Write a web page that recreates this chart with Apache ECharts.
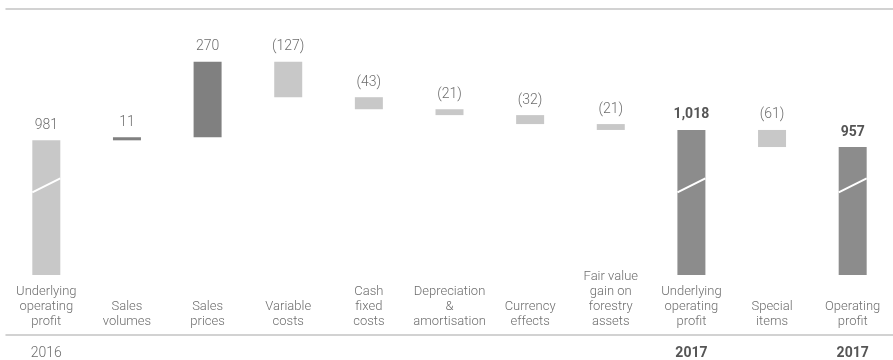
<!DOCTYPE html>
<html><head><meta charset="utf-8">
<script src="https://cdn.jsdelivr.net/npm/echarts@6/dist/echarts.min.js"></script>
<style>html,body{margin:0;padding:0;background:#fff}#c{width:893px;height:360px}</style>
</head><body><div id="c"></div>
<script>
const categories = ['Underlying\noperating\nprofit','Sales\nvolumes','Sales\nprices','Variable\ncosts','Cash\nfixed\ncosts','Depreciation\n&\namortisation','Currency\neffects','Fair value\ngain on\nforestry\nassets','Underlying\noperating\nprofit','Special\nitems','Operating\nprofit'];
const values = [981, 11, 270, -127, -43, -21, -32, -21, 1018, -61, 957];
const isTotal = [true, false, false, false, false, false, false, false, true, false, true];
const yearLabels = ['2016','','','','','','','','2017','','2017'];
const boldTotal = [false, false, false, false, false, false, false, false, true, false, true];
const breakAt = [820, null, null, null, null, null, null, null, 820, null, 820];

const LIGHT = '#c8c8c8', DARK = '#808080', TOTAL17 = '#8c8c8c';
const FONT = 'Roboto, "Liberation Sans", sans-serif';

// waterfall: invisible base + visible segment
let running = 0;
const baseData = [], segData = [];
values.forEach((v, i) => {
  if (isTotal[i]) {
    baseData.push(0);
    running = v;
    let color = boldTotal[i] ? TOTAL17 : LIGHT;
    segData.push({value: v, itemStyle: {color}});
  } else {
    const start = running, end = running + v;
    baseData.push(Math.min(start, end));
    running = end;
    segData.push({value: Math.abs(v), itemStyle: {color: v >= 0 ? DARK : LIGHT}});
  }
});

function fmt(i) {
  const v = values[i];
  const s = Math.abs(v).toLocaleString('en-US');
  return v < 0 ? '(' + s + ')' : s;
}

const chart = echarts.init(document.getElementById('c'), null, {renderer: 'canvas'});
chart.setOption({
  animation: false,
  grid: {left: 6, top: 9, width: 898, height: 266, containLabel: false},
  xAxis: [
    {type: 'category', data: categories, position: 'bottom',
     axisLine: {show: false}, axisTick: {show: false},
     axisLabel: {interval: 0, margin: 54, verticalAlign: 'bottom', color: '#6e6e6e',
       fontSize: 13, lineHeight: 15, fontFamily: FONT, fontWeight: 300}},
    {type: 'category', data: yearLabels, position: 'bottom', offset: 60,
     axisLine: {show: true, lineStyle: {color: '#c4c4c4', width: 1.5}}, axisTick: {show: false},
     axisLabel: {interval: 0, margin: 11, fontSize: 14, fontFamily: FONT,
       formatter: (val, idx) => boldTotal[idx] ? '{b|' + val + '}' : '{n|' + val + '}',
       rich: {b: {fontWeight: 'bold', color: '#555', fontSize: 14, fontFamily: FONT},
              n: {color: '#6e6e6e', fontSize: 14, fontFamily: FONT, fontWeight: 300}}}},
    {type: 'category', data: categories, position: 'top',
     axisLine: {show: true, lineStyle: {color: '#c4c4c4', width: 1.5}}, axisTick: {show: false},
     axisLabel: {show: false}}
  ],
  yAxis: {type: 'value', min: 500, max: 1450, show: false, splitLine: {show: false}},
  series: [
    {type: 'bar', stack: 'w', data: baseData, barWidth: 28, itemStyle: {color: 'transparent'}, silent: true},
    {type: 'bar', stack: 'w', data: segData, barWidth: 28,
     label: {show: true, position: 'top', distance: 8, fontFamily: FONT,
       formatter: p => boldTotal[p.dataIndex] ? '{b|' + fmt(p.dataIndex) + '}' : '{n|' + fmt(p.dataIndex) + '}',
       rich: {b: {fontWeight: 'bold', color: '#555', fontSize: 14, fontFamily: FONT},
              n: {color: '#6e6e6e', fontSize: 14, fontFamily: FONT, fontWeight: 300}}}},
    {type: 'custom', data: breakAt.map((v, i) => [i, v]).filter(d => d[1] !== null),
     renderItem: (params, api) => {
       const p = api.coord([api.value(0), api.value(1)]);
       const w = 28;
       return {type: 'line', shape: {x1: p[0] - w / 2, y1: p[1] + 7, x2: p[0] + w / 2, y2: p[1] - 7},
               style: {stroke: '#fff', lineWidth: 2}};
     }, z: 10, silent: true}
  ]
});
</script></body></html>
